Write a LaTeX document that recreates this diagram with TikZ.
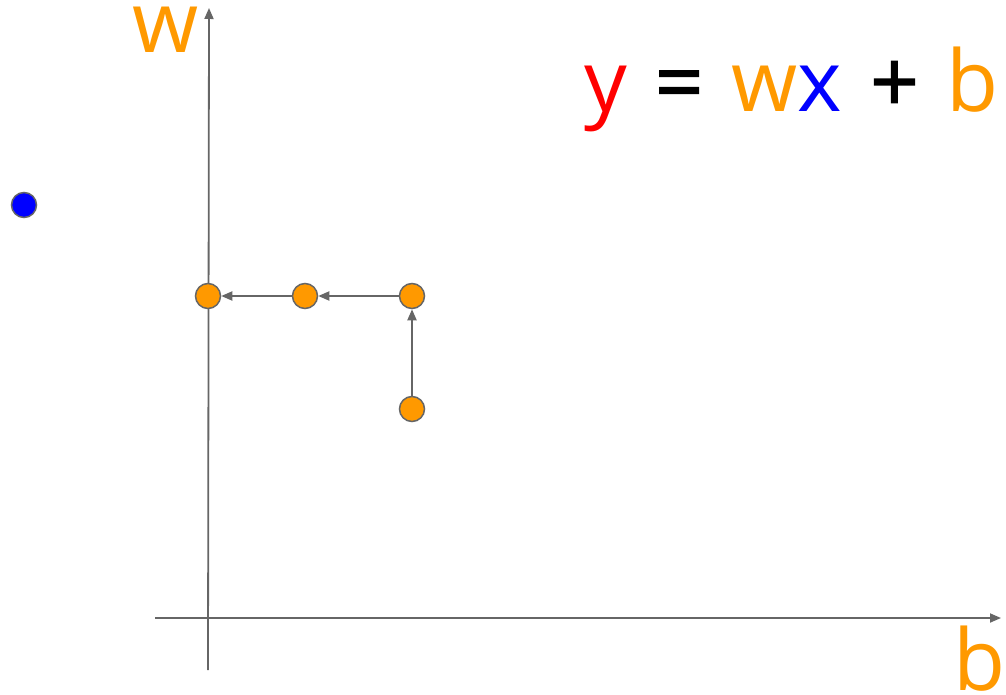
\documentclass[tikz,border=0pt]{standalone}
\usepackage{fontspec}
\setmainfont{Open Sans}
\usetikzlibrary{arrows.meta}
\definecolor{org}{HTML}{FF9900}
\definecolor{gry}{HTML}{666666}
\definecolor{blu}{HTML}{0000FF}
\definecolor{rd}{HTML}{FF0000}
\tikzset{
  dot/.style={circle, draw=gry, line width=1.5pt, inner sep=0pt, minimum size=25pt},
  odot/.style={dot, fill=org},
  bdot/.style={dot, fill=blu, minimum size=25pt},
  axis/.style={draw=gry, line width=1.8pt, -{Triangle[length=11pt,width=9pt]}},
  conn/.style={draw=gry, line width=1.8pt, -{Triangle[length=11pt,width=9pt]}},
  big/.style={font=\fontsize{85}{100}\selectfont, inner sep=0pt}
}
\newcommand{\gp}{\hspace{28pt}}
\newcommand{\hv}[1]{{\addfontfeature{FakeBold=1.6}#1}}
\begin{document}
\begin{tikzpicture}[x=1pt,y=-1pt]
\useasboundingbox (0,0) rectangle (1006,695);
\coordinate (vb) at (208,670);
\coordinate (vt) at (209,8);
\coordinate (hl) at (155,618);
\coordinate (hr) at (1001,618);
\draw[axis] (vb) -- (vt);
\draw[axis] (hl) -- (hr);
\node[odot] (p1) at (208,296) {};
\node[odot] (p2) at (305,296) {};
\node[odot] (p3) at (412,296) {};
\node[odot] (p4) at (412,409) {};
\node[bdot] (pb) at (24,205) {};
\draw[conn] (p4) -- (p3);
\draw[conn] (p3) -- (p2);
\draw[conn] (p2) -- (p1);
\node[big, text=org, anchor=base] (wl) at (166,53) {w};
\node[big, text=org, anchor=base] (bl) at (980,690) {b};
\node[big, anchor=base east] (eq) at (999,112) {\textcolor{rd}{y}\gp\hv{=}\gp\textcolor{org}{w}\textcolor{blu}{x}\gp\hv{+}\gp\textcolor{org}{b}};
\end{tikzpicture}
\end{document}
